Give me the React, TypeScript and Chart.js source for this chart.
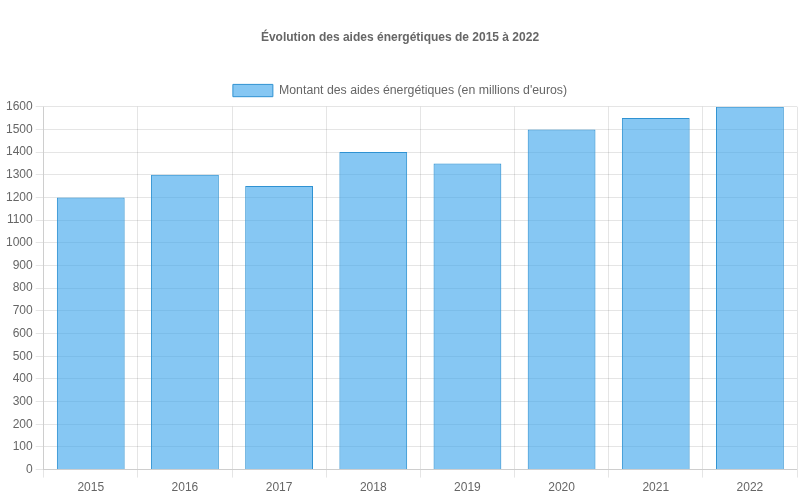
import Chart from "chart.js/auto";
import { useEffect, useRef } from "react";

const years = ["2015", "2016", "2017", "2018", "2019", "2020", "2021", "2022"];
const aidAmounts = [1200, 1300, 1250, 1400, 1350, 1500, 1550, 1600];

export default function App() {
  const canvasRef = useRef<HTMLCanvasElement | null>(null);
  const chartRef = useRef<Chart | null>(null);

  useEffect(() => {
    document.body.style.margin = "0";
    if (!canvasRef.current) {
      return;
    }
    if (chartRef.current) {
      chartRef.current.destroy();
    }

    Chart.defaults.font.family = "'Liberation Sans', Arial, sans-serif";
    Chart.defaults.font.size = 12;

    chartRef.current = new Chart(canvasRef.current, {
      type: "bar",
      data: {
        labels: years,
        datasets: [
          {
            label: "Montant des aides énergétiques (en millions d'euros)",
            data: aidAmounts,
            backgroundColor: "rgba(54, 162, 235, 0.6)",
            borderColor: "rgba(47, 146, 210, 1)",
            borderWidth: 1,
          },
        ],
      },
      options: {
        animation: false,
        responsive: true,
        maintainAspectRatio: false,
        layout: { padding: { left: 3, right: 3, bottom: 2 } },
        plugins: {
          title: {
            display: true,
            text: "Évolution des aides énergétiques de 2015 à 2022",
            font: { size: 12, weight: "bold" },
            padding: { top: 30, bottom: 30 },
          },
          legend: {
            display: true,
            labels: { font: { size: 12.3 } },
          },
        },
        scales: {
          y: {
            beginAtZero: true,
            max: 1600,
            ticks: {
              stepSize: 100,
              callback: (value: number | string) => String(value),
            },
          },
        },
      },
    });

    return () => {
      chartRef.current?.destroy();
    };
  }, []);

  return (
    <div style={{ width: 800, height: 500, position: "relative" }}>
      <canvas ref={canvasRef} />
    </div>
  );
}
